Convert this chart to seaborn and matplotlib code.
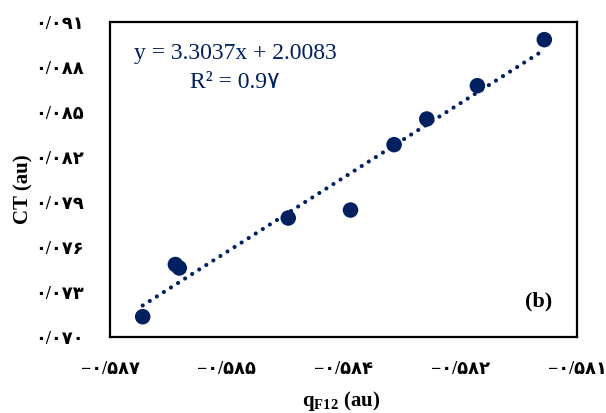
import matplotlib
matplotlib.use("Agg")
import matplotlib.pyplot as plt
import seaborn as sns
import numpy as np
import pandas as pd

# Measured charges and CT values
q_f12 = [-0.58608, -0.58566, -0.58561, -0.58421, -0.58341,
         -0.58285, -0.58243, -0.58178, -0.58092]
ct = [0.07132, 0.07480, 0.07457, 0.07790, 0.07843,
      0.08279, 0.08450, 0.08672, 0.08979]

# Linear trend reported on the chart
slope = 3.3037
intercept = 2.0083
equation_text = "y = 3.3037x + 2.0083"
r2_text = "R² = 0.9۷"

# Axis ticks and their (Persian-digit) labels
x_ticks = [-0.5865, -0.5850, -0.5835, -0.5820, -0.5805]
x_tick_labels = ["−۰/۵۸۷", "−۰/۵۸۵", "−۰/۵۸۴", "−۰/۵۸۲", "−۰/۵۸۱"]
y_ticks = [0.070, 0.073, 0.076, 0.079, 0.082, 0.085, 0.088, 0.091]
y_tick_labels = ["۰/۰۷۰", "۰/۰۷۳", "۰/۰۷۶", "۰/۰۷۹", "۰/۰۸۲", "۰/۰۸۵", "۰/۰۸۸", "۰/۰۹۱"]

panel_label = "(b)"

sns.set_theme(style="white")
plt.rcParams["font.family"] = ["Liberation Serif", "DejaVu Sans"]
plt.rcParams["mathtext.fontset"] = "custom"
plt.rcParams["mathtext.rm"] = "Liberation Serif"
plt.rcParams["mathtext.bf"] = "Liberation Serif:bold"

navy = "#002060"

fig = plt.figure(figsize=(6.06, 4.14), dpi=100)
ax = fig.add_axes([110 / 606, 1 - 337.5 / 414, 467 / 606, 315 / 414])

df = pd.DataFrame({"q": q_f12, "ct": ct})

# Trend line spanning the data range
tx = np.array([min(q_f12), max(q_f12)])
trend = pd.DataFrame({"q": tx, "ct": slope * tx + intercept})
sns.lineplot(data=trend, x="q", y="ct", ax=ax, color=navy, linewidth=3.0,
             linestyle=(0, (0.01, 2.0)), dash_capstyle="round", zorder=2)

sns.scatterplot(data=df, x="q", y="ct", ax=ax, color=navy, s=125,
                edgecolor="none", zorder=3)

ax.set_xlim(x_ticks[0], x_ticks[-1])
ax.set_ylim(y_ticks[0], y_ticks[-1])
ax.set_xticks(x_ticks)
ax.set_xticklabels(x_tick_labels)
ax.set_yticks(y_ticks)
ax.set_yticklabels(y_tick_labels)

for lbl in ax.get_xticklabels() + ax.get_yticklabels():
    lbl.set_fontfamily(["Liberation Serif", "DejaVu Sans"])
    lbl.set_fontweight("bold")
    lbl.set_fontsize(13)
    lbl.set_color("black")

ax.tick_params(axis="both", direction="in", length=5, width=1.3, color="black")
ax.tick_params(axis="y", pad=19)
ax.tick_params(axis="x", pad=17)

for sp in ax.spines.values():
    sp.set_visible(True)
    sp.set_color("black")
    sp.set_linewidth(1.6)

ax.set_xlabel(r"$\mathbf{q}_{\mathbf{F12}}$ (au)", fontsize=15, fontweight="bold",
              color="black")
ax.set_ylabel("CT (au)", fontsize=15, fontweight="bold", color="black")
ax.xaxis.set_label_coords(0.495, -0.162)
ax.yaxis.set_label_coords(-0.163, 0.47)

ax.text(0.2677, 0.903, equation_text, transform=ax.transAxes, ha="center",
        va="center", fontsize=17, color=navy,
        family=["Liberation Serif", "DejaVu Sans"])
ax.text(0.267, 0.811, r2_text, transform=ax.transAxes, ha="center",
        va="center", fontsize=17, color=navy,
        family=["Liberation Serif", "DejaVu Sans"])
ax.text(0.9186, 0.113, panel_label, transform=ax.transAxes, ha="center",
        va="center", fontsize=16, fontweight="bold", color="black")

fig.savefig("out.png", dpi=100)
